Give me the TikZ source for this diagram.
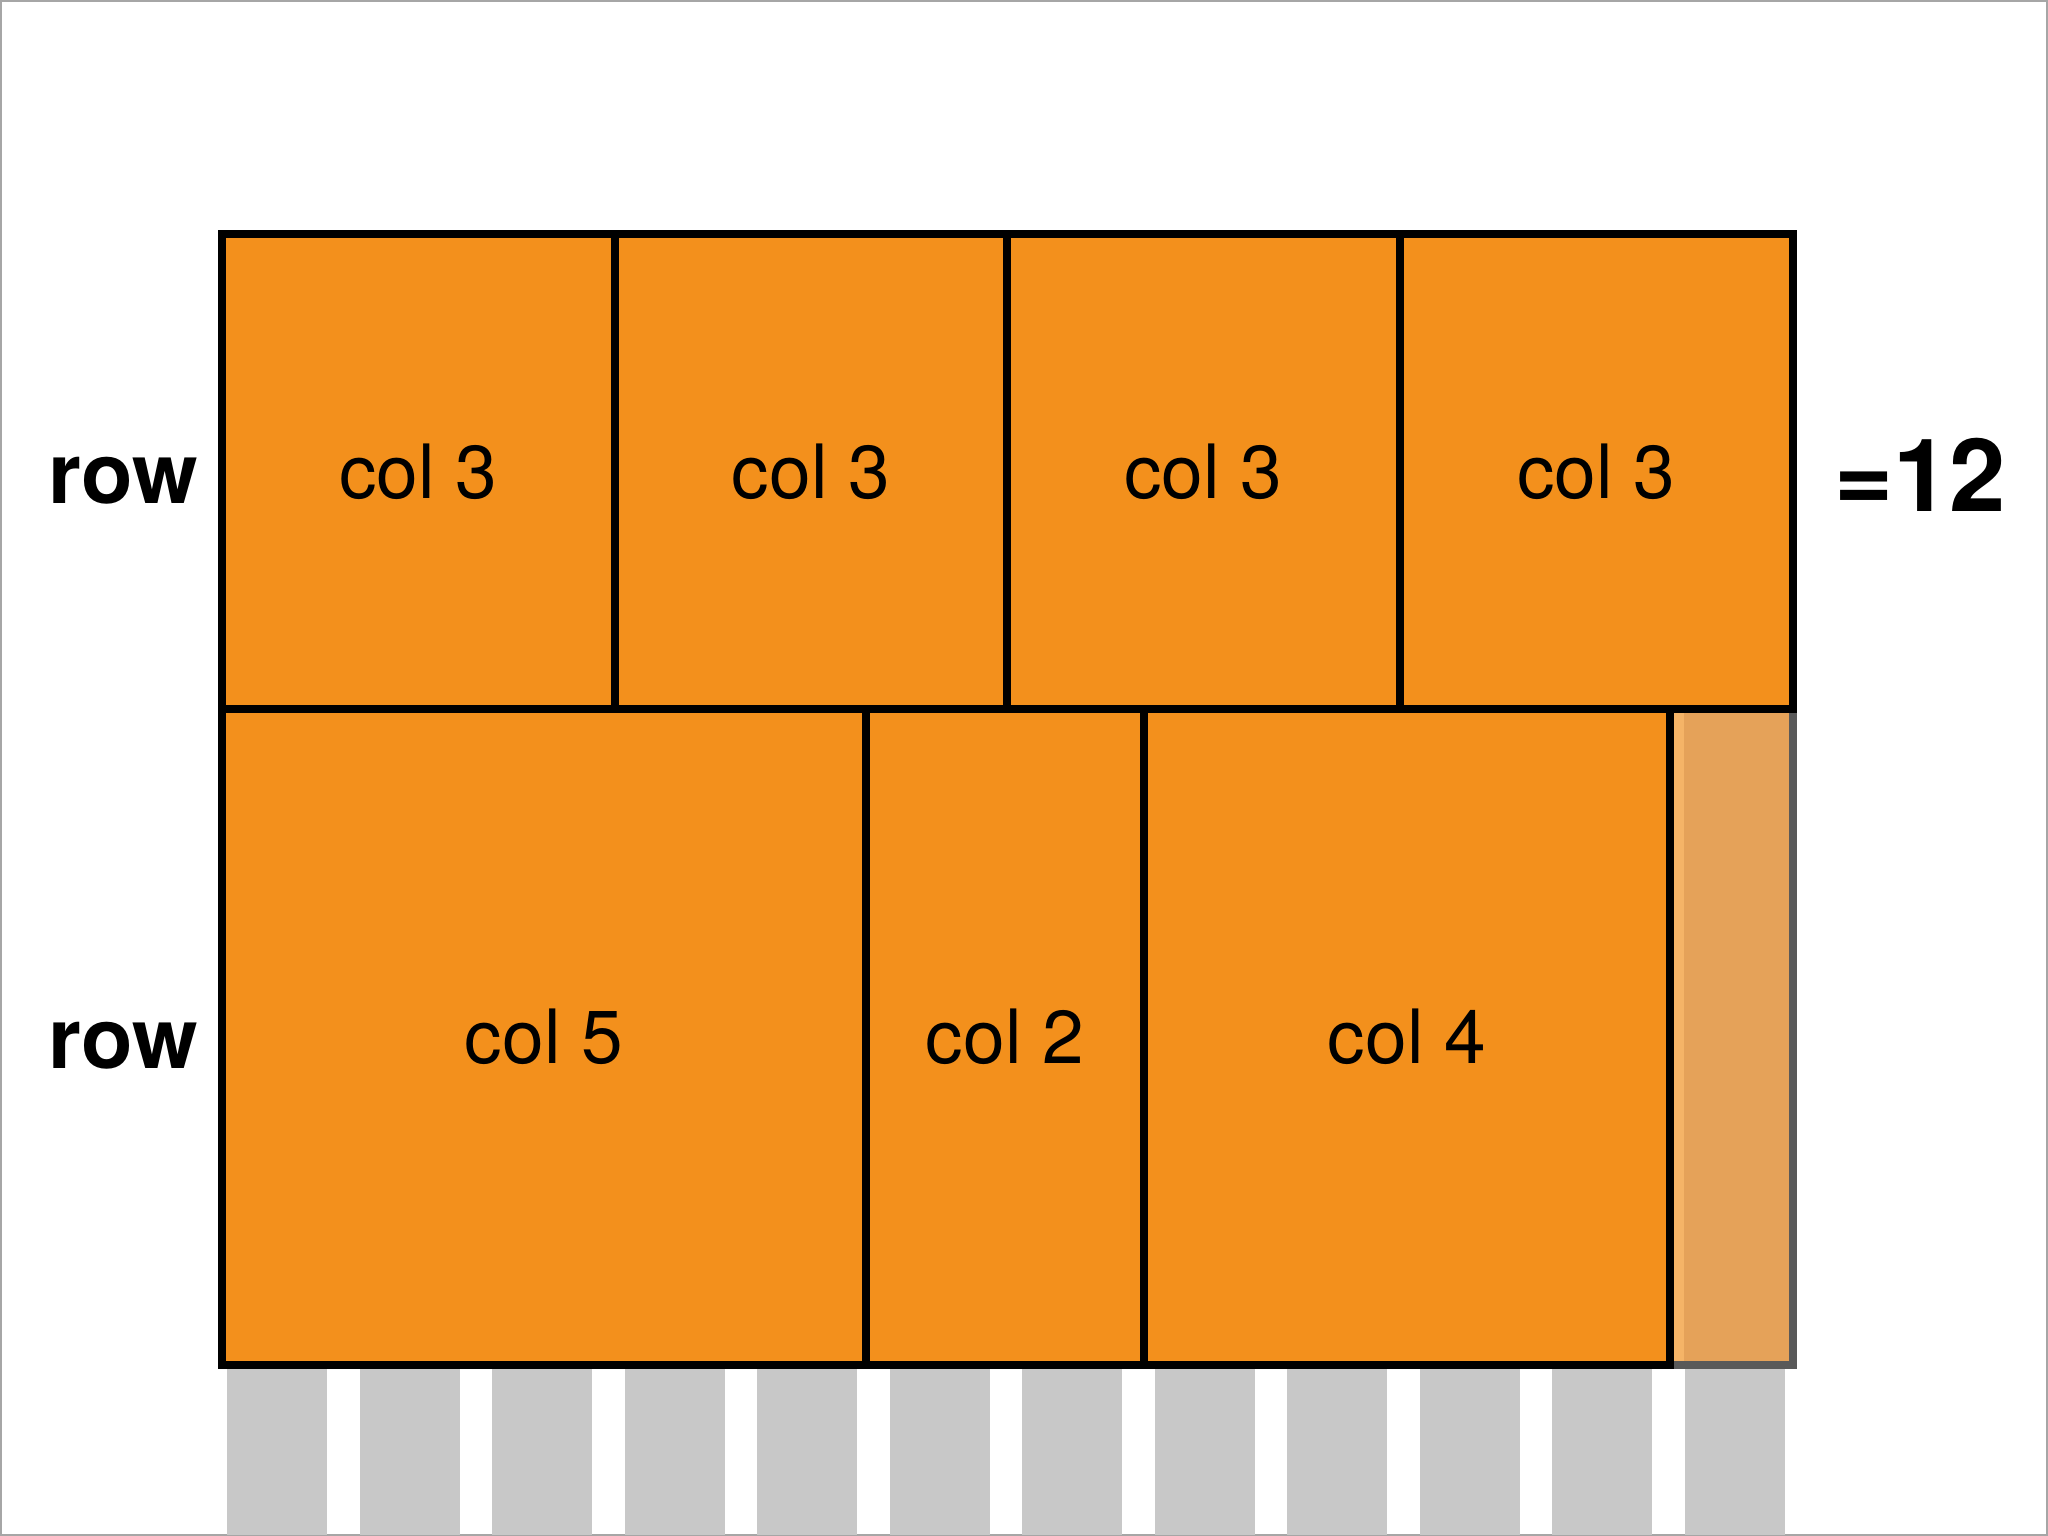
\documentclass[tikz,border=0pt]{standalone}
\usepackage{fontspec}
\setmainfont{TeX Gyre Heros}
\usepackage{tikz}
\usetikzlibrary{positioning}
\definecolor{cellorange}{HTML}{F3901C}
\definecolor{fadeorange}{HTML}{E5A259}
\definecolor{fadelight}{HTML}{F5B467}
\definecolor{fadeedge}{HTML}{595959}
\definecolor{slotgray}{HTML}{C8C8C8}
\tikzset{
    cell/.style={draw=black, fill=cellorange, line width=2.3pt},
    fadecell/.style={draw=fadeedge, fill=fadeorange, line width=2.3pt},
    slot/.style={fill=slotgray},
    coltext/.style={font=\fontsize{21.3}{25}\selectfont},
    rowtext/.style={font=\bfseries\fontsize{24}{28}\selectfont, anchor=base},
    sumtext/.style={font=\bfseries\fontsize{28.8}{34}\selectfont, anchor=base},
}

\begin{document}
\begin{tikzpicture}[x=0.01cm, y=-0.01cm]
\useasboundingbox (0,0) rectangle (2048,1536);
\draw[gray!70, line width=0.57pt] (1,1) rectangle (2047,1535);
% the twelve grid columns
\foreach \i in {0,...,11}
	\fill[slot] ({227+132.5*\i},1369) rectangle ++(100,166);
% unused column
\draw[fadecell] (1670,709) rectangle (1793,1365);
\fill[fadelight] (1674,713) rectangle (1684,1361);
% first row
\draw[cell] (222,234) rectangle (615,709);
\draw[cell] (615,234) rectangle (1007,709);
\draw[cell] (1007,234) rectangle (1400,709);
\draw[cell] (1400,234) rectangle (1793,709);
\node[coltext] (a1) at (418.5,471.5) {col 3};
\node[coltext] (a2) at (811,471.5) {col 3};
\node[coltext] (a3) at (1203.5,471.5) {col 3};
\node[coltext] (a4) at (1596.5,471.5) {col 3};
% second row
\draw[cell] (222,709) rectangle (866,1365);
\draw[cell] (866,709) rectangle (1144,1365);
\draw[cell] (1144,709) rectangle (1670,1365);
\node[coltext] (b1) at (544,1037) {col 5};
\node[coltext] (b2) at (1005,1037) {col 2};
\node[coltext] (b3) at (1407,1037) {col 4};
% labels
\node[rowtext] (rowa) at (123,503) {row};
\node[rowtext] (rowb) at (123,1068) {row};
\node[sumtext] (sum) at (1920,511) {=12};
\end{tikzpicture}
\end{document}
